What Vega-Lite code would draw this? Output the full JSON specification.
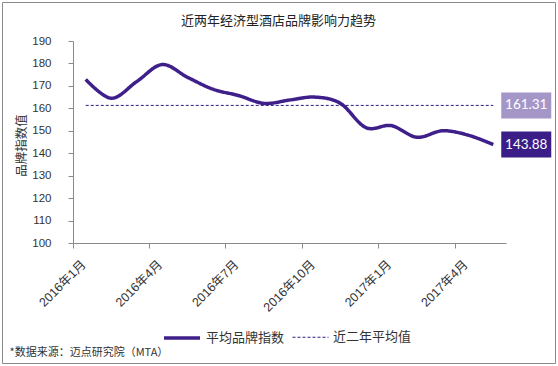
{
  "$schema": "https://vega.github.io/schema/vega-lite/v6.json",
  "width": 553,
  "height": 361,
  "autosize": {"type": "none"},
  "padding": {"left": 2, "top": 2, "right": 3, "bottom": 3},
  "background": "white",
  "title": {
    "text": "近两年经济型酒店品牌影响力趋势",
    "font": "Noto Sans CJK SC",
    "fontSize": 13,
    "fontWeight": "normal",
    "color": "#222222",
    "anchor": "middle",
    "frame": "group",
    "offset": -32,
    "baseline": "middle"
  },
  "datasets": {
    "main": [
      {"m": "2016年1月", "v": 172.9, "s": "平均品牌指数"},
      {"m": "2016年2月", "v": 164.5, "s": "平均品牌指数"},
      {"m": "2016年3月", "v": 171.9, "s": "平均品牌指数"},
      {"m": "2016年4月", "v": 179.5, "s": "平均品牌指数"},
      {"m": "2016年5月", "v": 173.8, "s": "平均品牌指数"},
      {"m": "2016年6月", "v": 168.5, "s": "平均品牌指数"},
      {"m": "2016年7月", "v": 165.7, "s": "平均品牌指数"},
      {"m": "2016年8月", "v": 162.2, "s": "平均品牌指数"},
      {"m": "2016年9月", "v": 163.7, "s": "平均品牌指数"},
      {"m": "2016年10月", "v": 165.0, "s": "平均品牌指数"},
      {"m": "2016年11月", "v": 162.2, "s": "平均品牌指数"},
      {"m": "2016年12月", "v": 151.4, "s": "平均品牌指数"},
      {"m": "2017年1月", "v": 152.3, "s": "平均品牌指数"},
      {"m": "2017年2月", "v": 147.1, "s": "平均品牌指数"},
      {"m": "2017年3月", "v": 150.0, "s": "平均品牌指数"},
      {"m": "2017年4月", "v": 148.1, "s": "平均品牌指数"},
      {"m": "2017年5月", "v": 143.88, "s": "平均品牌指数"},
      {"m": "2016年1月", "v": 161.31, "s": "近二年平均值"},
      {"m": "2017年5月", "v": 161.31, "s": "近二年平均值"}
    ],
    "boxes": [
      {"m": "2017年5月", "v": 161.31, "k": "avg", "t": "161.31"},
      {"m": "2017年5月", "v": 143.88, "k": "last", "t": "143.88"}
    ]
  },
  "encoding": {
    "x": {
      "field": "m",
      "type": "ordinal",
      "bandPosition": 0.5,
      "scale": {
        "type": "band",
        "domain": ["2016年1月","2016年2月","2016年3月","2016年4月","2016年5月","2016年6月","2016年7月","2016年8月","2016年9月","2016年10月","2016年11月","2016年12月","2017年1月","2017年2月","2017年3月","2017年4月","2017年5月"],
        "range": [71, 504],
        "paddingInner": 0,
        "paddingOuter": 0
      },
      "axis": {
        "title": "*数据来源：迈点研究院（MTA）",
        "values": ["2016年1月","2016年4月","2016年7月","2016年10月","2017年1月","2017年4月"],
        "bandPosition": 0,
        "labelOffset": -2,
        "labelAngle": -45,
        "labelAlign": "right",
        "labelBaseline": "middle",
        "labelPadding": 14,
        "labelOverlap": false,
        "tickSize": 5,
        "offset": -120,
        "grid": false,
        "domainColor": "#8a8a8a",
        "tickColor": "#8a8a8a",
        "labelColor": "#333333",
        "labelFont": "Liberation Sans, Noto Sans CJK SC",
        "labelFontSize": 12.5,
        "titleX": 7,
        "titleY": 109,
        "titleAlign": "left",
        "titleBaseline": "middle",
        "titleFont": "Noto Sans CJK SC",
        "titleFontSize": 11,
        "titleFontWeight": "normal",
        "titleColor": "#333333"
      }
    },
    "y": {
      "field": "v",
      "type": "quantitative",
      "scale": {"domain": [100, 190], "range": [241, 39], "nice": false, "zero": false},
      "axis": {
        "title": "品牌指数值",
        "offset": -71,
        "values": [100, 110, 120, 130, 140, 150, 160, 170, 180, 190],
        "tickSize": 5,
        "labelPadding": 17,
        "grid": false,
        "domainColor": "#8a8a8a",
        "tickColor": "#8a8a8a",
        "labelColor": "#333333",
        "labelFont": "Liberation Sans",
        "labelFontSize": 11.5,
        "titleX": -52,
        "titleY": 143,
        "titleAngle": 270,
        "titleAlign": "center",
        "titleBaseline": "middle",
        "titleFont": "Noto Sans CJK SC",
        "titleFontSize": 12.5,
        "titleFontWeight": "normal",
        "titleColor": "#333333"
      }
    }
  },
  "layer": [
    {
      "data": {"name": "main"},
      "mark": {"type": "line", "interpolate": "cardinal"},
      "encoding": {
        "color": {
          "field": "s",
          "type": "nominal",
          "scale": {"domain": ["平均品牌指数", "近二年平均值"], "range": ["#3F208B", "#2E1C7C"]}
        },
        "strokeDash": {
          "field": "s",
          "type": "nominal",
          "scale": {"domain": ["平均品牌指数", "近二年平均值"], "range": [[1, 0], [3, 2]]}
        },
        "strokeWidth": {
          "field": "s",
          "type": "nominal",
          "scale": {"domain": ["平均品牌指数", "近二年平均值"], "range": [3.5, 1]}
        }
      }
    },
    {
      "data": {"name": "boxes"},
      "mark": {"type": "point", "shape": "M-1,-0.52H1V0.52H-1Z", "size": 2500, "filled": true, "opacity": 1, "strokeWidth": 0, "xOffset": 33},
      "encoding": {
        "fill": {
          "field": "k",
          "type": "nominal",
          "scale": {"domain": ["avg", "last"], "range": ["#A596C8", "#3B1D87"]},
          "legend": null
        }
      }
    },
    {
      "data": {"name": "boxes"},
      "mark": {"type": "text", "dx": 33, "color": "white", "font": "Lato", "fontSize": 13.5, "align": "center", "baseline": "middle"},
      "encoding": {
        "text": {"field": "t", "type": "nominal"}
      }
    }
  ],
  "config": {
    "view": {"stroke": "#8a8a8a", "strokeWidth": 1},
    "legend": {
      "orient": "none",
      "legendX": 160,
      "legendY": 316,
      "direction": "horizontal",
      "title": null,
      "symbolType": "stroke",
      "symbolSize": 1296,
      "labelFont": "Noto Sans CJK SC",
      "labelFontSize": 13,
      "labelColor": "#333333",
      "labelOffset": 4,
      "columnPadding": 5,
      "padding": 0
    }
  }
}
